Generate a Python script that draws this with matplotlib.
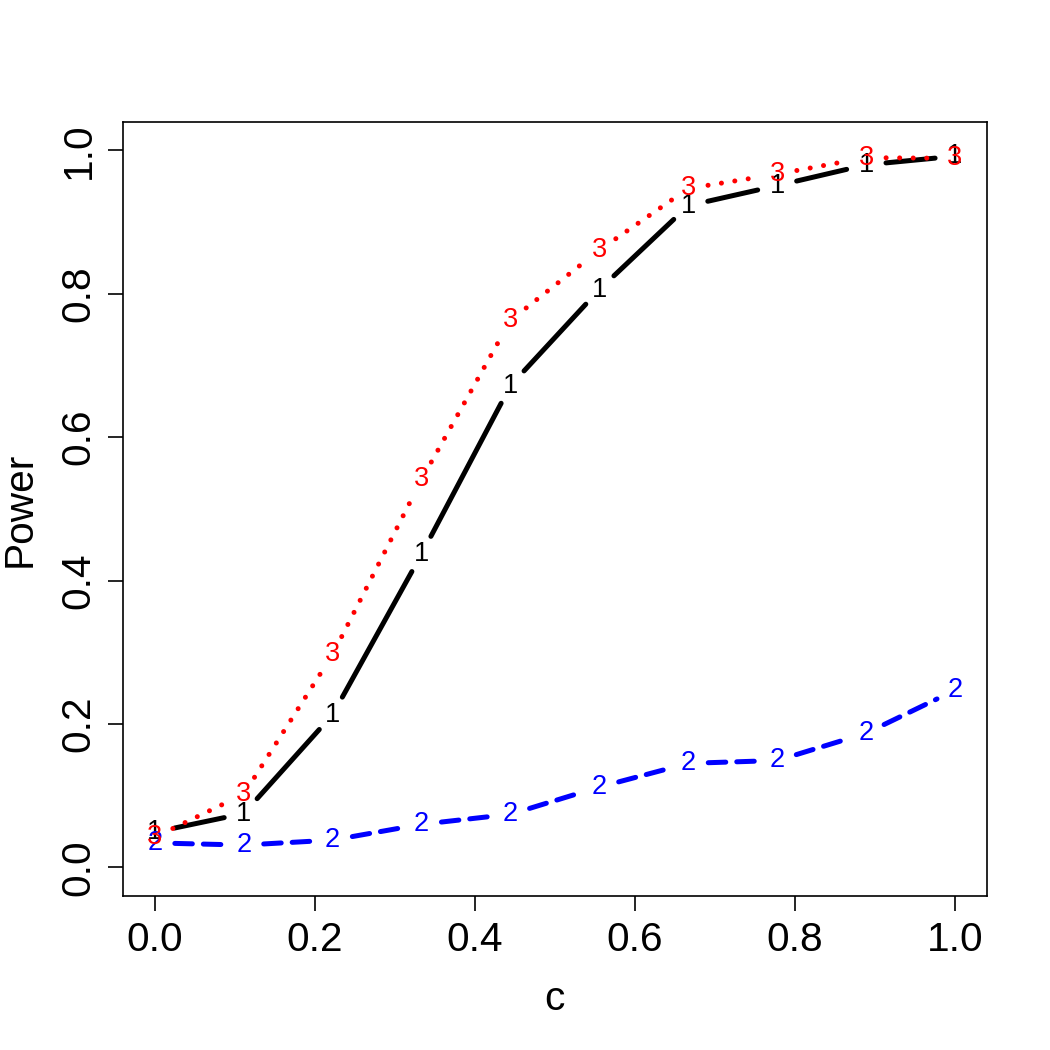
import matplotlib
matplotlib.use("Agg")
import matplotlib.pyplot as plt
import numpy as np

plt.rcParams["font.family"] = ["Liberation Sans", "DejaVu Sans"]

# power curves at c = 0, 1/9, ..., 1
c_vals = np.arange(10) / 9
power_1 = [0.049, 0.075, 0.213, 0.437, 0.672, 0.806, 0.923, 0.951, 0.980, 0.992]
power_2 = [0.034, 0.031, 0.038, 0.060, 0.074, 0.112, 0.145, 0.149, 0.187, 0.247]
power_3 = [0.042, 0.102, 0.297, 0.541, 0.763, 0.861, 0.947, 0.967, 0.990, 0.989]
labels = ["1", "2", "3"]
colors = ["black", "blue", "red"]
styles = [
    dict(linestyle="-", solid_capstyle="round"),
    dict(linestyle=(0, (3.5, 2.2)), dash_capstyle="round"),
    dict(linestyle=(0, (0.01, 2.7)), dash_capstyle="round"),
]

fig = plt.figure(figsize=(7, 7), dpi=150)
ax = fig.add_axes([0.117, 0.1467, 0.823, 0.7373])
ax.set_xlim(-0.04, 1.04)
ax.set_ylim(-0.04, 1.04)
fig.canvas.draw()


def draw_type_b(x, y, label, color, style, gap=20):
    # R type="b": segments broken around each plotted character
    pts = ax.transData.transform(np.column_stack([x, y]))
    inv = ax.transData.inverted()
    for p0, p1 in zip(pts[:-1], pts[1:]):
        d = p1 - p0
        n = np.hypot(*d)
        if n <= 2 * gap:
            continue
        u = d / n
        a = inv.transform(p0 + u * gap)
        b = inv.transform(p1 - u * gap)
        ax.plot([a[0], b[0]], [a[1], b[1]], color=color, lw=2.4, **style)
    for xi, yi in zip(x, y):
        ax.text(xi, yi, label, color=color, fontsize=13, ha="center", va="center")


for ys, lab, col, st in zip([power_1, power_2, power_3], labels, colors, styles):
    draw_type_b(c_vals, ys, lab, col, st)

ticks = [0.0, 0.2, 0.4, 0.6, 0.8, 1.0]
ax.set_xticks(ticks)
ax.set_xticklabels([f"{t:.1f}" for t in ticks])
ax.set_yticks(ticks)
ax.set_yticklabels([f"{t:.1f}" for t in ticks], rotation=90, va="center")
ax.tick_params(direction="out", length=7, width=0.8, labelsize=19.5, pad=5)
ax.set_xlabel("c", fontsize=19.5, labelpad=10)
ax.set_ylabel("Power", fontsize=19.5, labelpad=10)
for s in ax.spines.values():
    s.set_linewidth(0.8)

fig.savefig("out.png", dpi=150)
